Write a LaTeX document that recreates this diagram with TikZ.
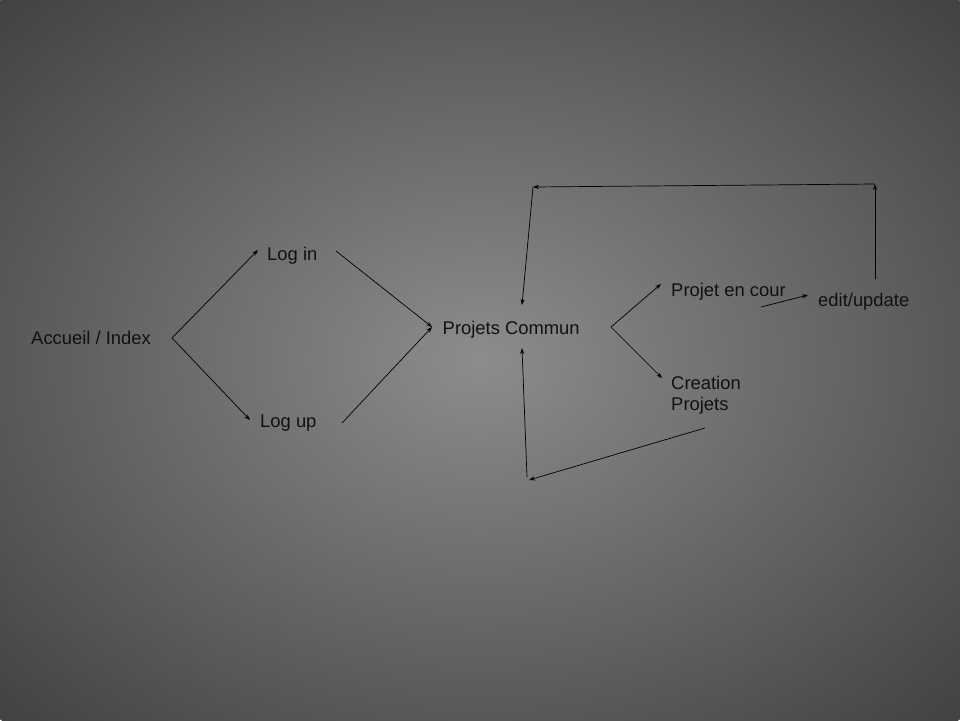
\documentclass[tikz,border=0pt]{standalone}
\usepackage{fontspec}
\setmainfont{Liberation Sans}
\usetikzlibrary{arrows.meta}

\definecolor{bgin}{HTML}{8C8C8C}
\definecolor{bgout}{HTML}{424242}
\definecolor{ink}{HTML}{111111}

\begin{document}
\begin{tikzpicture}[x=0.03cm,y=-0.03cm,
    lbl/.style={anchor=base west, inner sep=0pt, text=ink, font=\fontsize{15.7}{17.9}\selectfont},
    arr/.style={-{Stealth[length=5pt,width=3.6pt]}, line width=0.6pt, black}]
    \useasboundingbox (0,0) rectangle (960,720);
    \begin{scope}
        \clip (0,0) rectangle (960,720);
        \shade[inner color=bgin, outer color=bgout] (480,360) ellipse (20.35cm and 15.25cm);
    \end{scope}

    \node[lbl] (1) at (31,344.7) {Accueil / Index};
    \node[lbl] (2) at (267,260) {Log in};
    \node[lbl] (3) at (260,427.7) {Log up};
    \node[lbl] (4) at (442.5,334) {Projets Commun};
    \node[lbl] (5) at (671,296) {Projet en cour};
    \node[lbl] (6) at (818,306) {edit/update};
    \node[lbl, align=left] (7) at (671,410) {Creation\\Projets};

    % free ends of the arrows
    \coordinate (1r) at (172,338);
    \coordinate (2l) at (258,250);
    \coordinate (2r) at (336,251);
    \coordinate (3l) at (250,420);
    \coordinate (3r) at (342,423);
    \coordinate (4l) at (432,327);
    \coordinate (4r) at (611,327);
    \coordinate (4t) at (522,305);
    \coordinate (4b) at (522,348);
    \coordinate (5l) at (661,284);
    \coordinate (5r) at (761,307);
    \coordinate (6l) at (808,295);
    \coordinate (6t) at (875,279);
    \coordinate (7l) at (662,378);
    \coordinate (7r) at (705,428);
    \coordinate (tr) at (875,184);
    \coordinate (tl) at (533,187);
    \coordinate (bl) at (529,480);
    \coordinate (bs) at (527,477);

    \draw[arr] (1r) -- (2l);
    \draw[arr] (1r) -- (3l);
    \draw[arr] (2r) -- (4l);
    \draw[arr] (3r) -- (4l);
    \draw[arr] (4r) -- (5l);
    \draw[arr] (4r) -- (7l);
    \draw[arr] (5r) -- (6l);
    \draw[arr] (6t) -- (tr);
    \draw[arr] (tr) -- (tl);
    \draw[arr] (tl) -- (4t);
    \draw[arr] (7r) -- (bl);
    \draw[arr] (bs) -- (4b);
\end{tikzpicture}
\end{document}
